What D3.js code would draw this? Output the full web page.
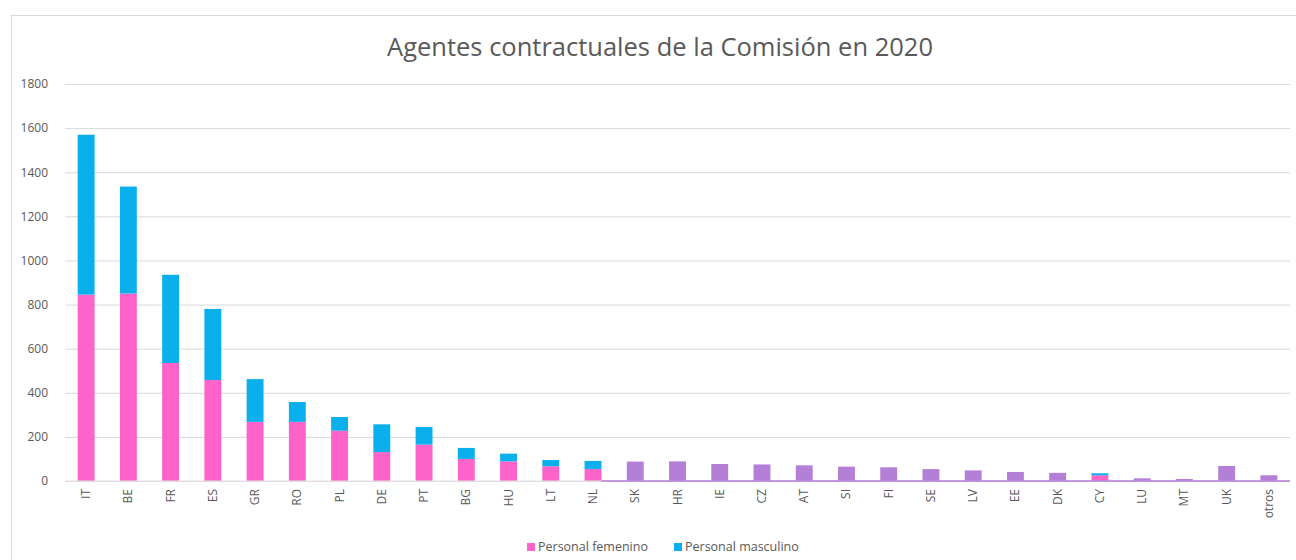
<!DOCTYPE html>
<html>
<head>
<meta charset="utf-8">
<script src="https://cdn.jsdelivr.net/npm/d3@7"></script>
<style>
  body { margin: 0; background: #fff; }
  text { font-family: "Open Sans", "Noto Sans", sans-serif; fill: #595959; }
  .grid line { stroke: #d9d9d9; stroke-width: 1; }
  .y-axis text, .x-axis text { font-size: 12px; }
</style>
</head>
<body>
<script>
var w = 1296;
var h = 560;

var margin = {top: 84, right: 6, bottom: 79, left: 65};

// data
var paises = ["IT","BE","FR","ES","GR","RO","PL","DE","PT","BG","HU","LT","NL","SK","HR","IE","CZ","AT","SI","FI","SE","LV","EE","DK","CY","LU","MT","UK","otros"];
var femenino  = [845, 850, 535, 458, 268, 268, 228, 131, 165, 100, 89, 67, 54, 0, 0, 0, 0, 0, 0, 0, 0, 0, 0, 0, 26, 0, 0, 0, 0];
var masculino = [725, 485, 400, 322, 194, 90, 62, 126, 80, 50, 35, 28, 37, 0, 0, 0, 0, 0, 0, 0, 0, 0, 0, 0, 9, 0, 0, 0, 0];
var sinDesglose = [0, 0, 0, 0, 0, 0, 0, 0, 0, 0, 0, 0, 0, 88, 89, 77, 75, 71, 65, 62, 54, 48, 41, 37, 0, 12, 9, 68, 26];
var yTicks = [0, 200, 400, 600, 800, 1000, 1200, 1400, 1600, 1800];

var colFem = "#fd63c8", colMas = "#0ab0ec", colTot = "#b47fd6";

var svg = d3.select("body").append("svg")
    .attr("width", w)
    .attr("height", h);

// outer border of chart area
svg.append("rect")
    .attr("x", 11.5).attr("y", 15.5)
    .attr("width", w - 10).attr("height", h)
    .attr("fill", "none")
    .attr("stroke", "#d9d9d9");

var x = d3.scaleBand()
    .domain(paises)
    .range([margin.left, w - margin.right])
    .paddingInner(0.6)
    .paddingOuter(0.3);

var y = d3.scaleLinear()
    .domain([0, 1800])
    .range([h - margin.bottom, margin.top]);

// grid lines
svg.append("g")
    .attr("class", "grid")
    .attr("transform", "translate(" + margin.left + ",0)")
    .call(d3.axisLeft(y).tickValues(yTicks).tickSize(-(w - margin.left - margin.right)).tickFormat(""))
    .call(g => g.select(".domain").remove());

// y-axis labels
svg.append("g")
    .attr("class", "y-axis")
    .attr("transform", "translate(" + (margin.left - 14) + ",0)")
    .call(d3.axisLeft(y).tickValues(yTicks).tickSize(0).tickFormat(d3.format("d")))
    .call(g => g.select(".domain").remove())
    .selectAll("text")
    .attr("fill", "#595959");

var data = paises.map(function(p, i) {
  return {pais: p, fem: femenino[i], mas: masculino[i], tot: sinDesglose[i]};
});

var bars = svg.append("g").selectAll(".bar")
    .data(data)
    .enter().append("g")
    .attr("class", "bar");

// personal femenino
bars.filter(d => d.fem > 0).append("rect")
    .attr("x", d => x(d.pais))
    .attr("width", x.bandwidth())
    .attr("y", d => y(d.fem))
    .attr("height", d => y(0) - y(d.fem))
    .attr("fill", colFem);

// personal masculino (stacked)
bars.filter(d => d.mas > 0).append("rect")
    .attr("x", d => x(d.pais))
    .attr("width", x.bandwidth())
    .attr("y", d => y(d.fem + d.mas))
    .attr("height", d => y(d.fem) - y(d.fem + d.mas))
    .attr("fill", colMas);

// totals without breakdown
bars.filter(d => d.tot > 0).append("rect")
    .attr("x", d => x(d.pais))
    .attr("width", x.bandwidth())
    .attr("y", d => y(d.tot))
    .attr("height", d => y(0) - y(d.tot))
    .attr("fill", colTot);

// baseline
svg.append("line")
    .attr("x1", margin.left).attr("x2", w - margin.right)
    .attr("y1", y(0)).attr("y2", y(0))
    .attr("stroke", "#e6e0e6");
svg.append("line")
    .attr("x1", x("NL") + x.bandwidth()).attr("x2", w - margin.right)
    .attr("y1", y(0)).attr("y2", y(0))
    .attr("stroke", colTot)
    .attr("stroke-width", 1.5);

// x-axis labels, rotated
svg.append("g")
    .attr("class", "x-axis")
    .selectAll("text")
    .data(paises)
    .enter().append("text")
    .attr("transform", d => "translate(" + (x(d) + x.bandwidth() / 2 + 4) + "," + (y(0) + 8) + ") rotate(-90)")
    .attr("text-anchor", "end")
    .text(d => d);

// title
svg.append("text")
    .attr("x", 660)
    .attr("y", 56)
    .attr("text-anchor", "middle")
    .style("font-size", "25.5px")
    .attr("fill", "#595959")
    .text("Agentes contractuales de la Comisión en 2020");

// legend
var legend = svg.append("g").attr("transform", "translate(527,547)");
var items = [{label: "Personal femenino", color: colFem, dx: 0}, {label: "Personal masculino", color: colMas, dx: 147}];
items.forEach(function(it) {
  legend.append("rect")
      .attr("x", it.dx).attr("y", -4)
      .attr("width", 8).attr("height", 8)
      .attr("fill", it.color);
  legend.append("text")
      .attr("x", it.dx + 11)
      .attr("y", 0)
      .attr("dy", ".35em")
      .style("font-size", "12.5px")
      .text(it.label);
});
</script>
</body>
</html>
